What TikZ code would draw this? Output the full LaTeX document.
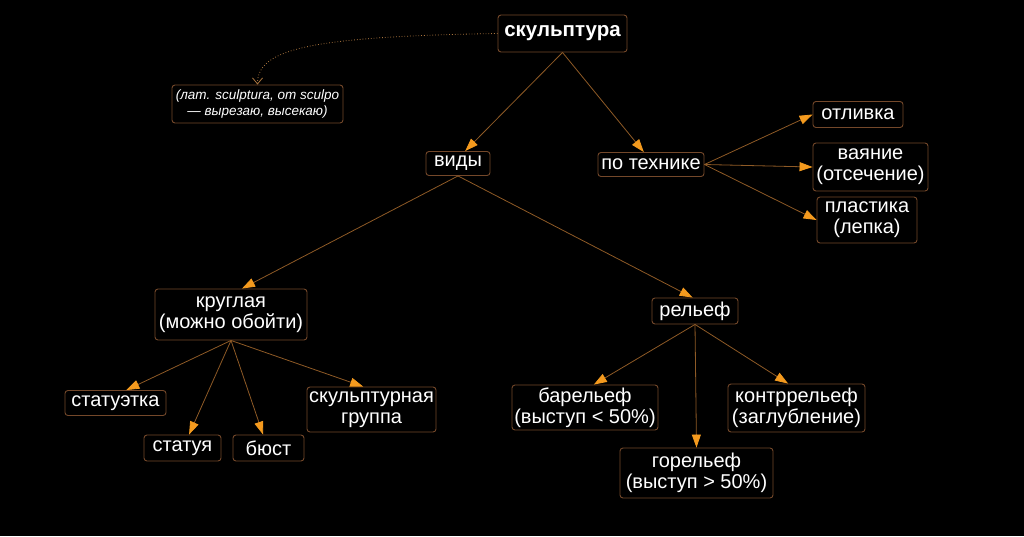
\documentclass[tikz,border=0pt]{standalone}
\usepackage{fontspec}
\setmainfont{Liberation Sans}
\usetikzlibrary{arrows.meta,calc}
\definecolor{boxbrd}{HTML}{74482A}
\definecolor{linec}{HTML}{8E5A26}
\definecolor{tipc}{HTML}{F49A1E}
\definecolor{dotc}{HTML}{A8743E}
\tikzset{
  box/.style={draw=boxbrd, line width=0.9pt, rounded corners=3pt, text=white, align=center,
    inner sep=0pt, font=\fontsize{20}{21}\selectfont},
  sz/.style 2 args={minimum width=#1pt, minimum height=#2pt},
  conn/.style={draw=linec, line width=0.8pt, -{Triangle[length=13pt,width=9pt,color=tipc,fill=tipc]}},
}
\begin{document}
\begin{tikzpicture}[x=1pt,y=-1pt]
\useasboundingbox[fill=black] (0,0) rectangle (1024,536);
\node[box, sz={129}{37}, font=\fontsize{20.5}{22}\selectfont\bfseries] (s) at (562.5,33.5) {скульптура};
\node[box, sz={171}{38}, font=\fontsize{13.5}{15.5}\selectfont\itshape] (n) at (257.5,104) {(лат. sculptura, от sculpo\\— вырезаю, высекаю)};
\node[box, sz={64}{24}] (v) at (458,163.5) {виды};
\node[box, sz={106}{24}] (t) at (651,164.5) {по технике};
\node[box, sz={90}{26}] (o) at (858,114.5) {отливка};
\node[box, sz={115}{48}] (va) at (870.5,167) {ваяние\\(отсечение)};
\node[box, sz={100}{46}] (p) at (867,220) {пластика\\(лепка)};
\node[box, sz={152}{51}] (k) at (231,314.5) {круглая\\(можно обойти)};
\node[box, sz={86}{26}] (r) at (695,311) {рельеф};
\node[box, sz={101}{25}] (st) at (115.5,403) {статуэтка};
\node[box, sz={77}{26}] (sa) at (182.5,448) {статуя};
\node[box, sz={71}{26}] (b) at (268.5,448) {бюст};
\node[box, sz={129}{45}] (g) at (371.5,409.5) {скульптурная\\группа};
\node[box, sz={146}{45}] (ba) at (585,407.5) {барельеф\\(выступ < 50\%)};
\node[box, sz={137}{48}] (kr) at (796.5,408) {контррельеф\\(заглубление)};
\node[box, sz={153}{50}] (go) at (696.5,473) {горельеф\\(выступ > 50\%)};

\draw[dotc, line width=0.8pt, dotted, -{Straight Barb[length=6pt,width=10pt]}]
  (s.west) .. controls ($(s.west)+(-190,3)$) and ($(n.north)+(0,-35)$) .. (n.north);

\draw[conn] (s.south) -- (v.60);
\draw[conn] (s.south) -- (t.120);
\draw[conn] (t.east) -- (o.west);
\draw[conn] (t.east) -- (va.west);
\draw[conn] (t.east) -- (p.west);
\draw[conn] (v.south) -- (k.67);
\draw[conn] (v.south) -- (r.100);
\draw[conn] (k.south) -- (st.50);
\draw[conn] (k.south) -- (sa.64);
\draw[conn] (k.south) -- (b.112);
\draw[conn] (k.south) -- (g.110);
\draw[conn] (r.south) -- (ba.69);
\draw[conn] (r.south) -- (go.north);
\draw[conn] (r.south) -- (kr.109);
\end{tikzpicture}
\end{document}
